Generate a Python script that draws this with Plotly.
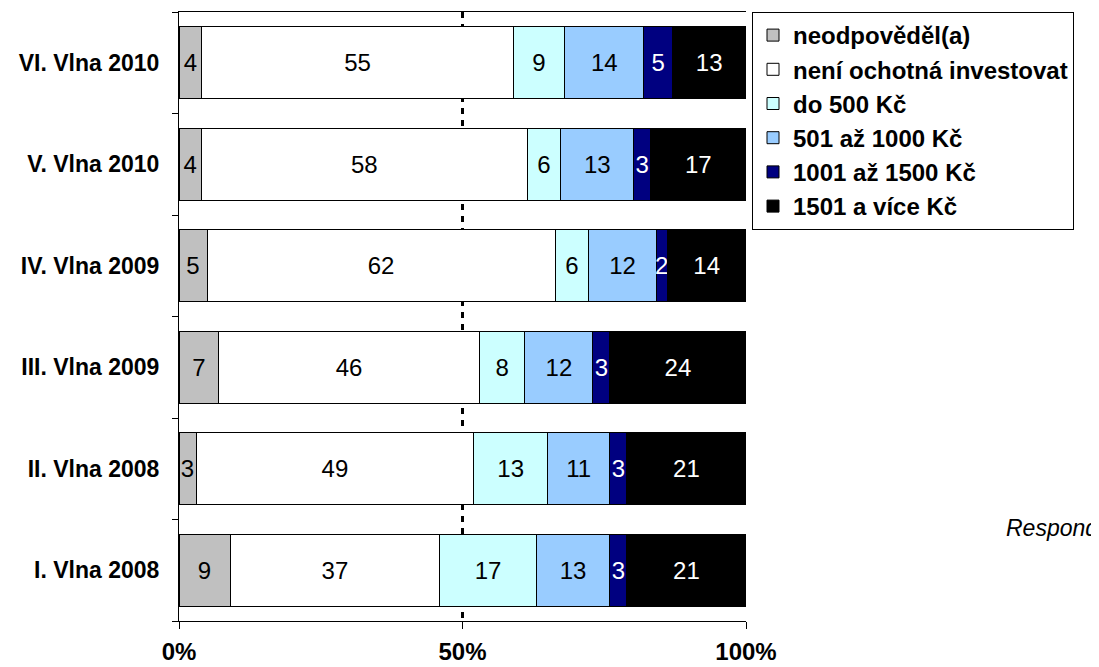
import plotly.graph_objects as go

categories = ["I. Vlna 2008", "II. Vlna 2008", "III. Vlna 2009",
              "IV. Vlna 2009", "V. Vlna 2010", "VI. Vlna 2010"]

series_names = ["neodpověděl(a)", "není ochotná investovat", "do 500 Kč",
                "501 až 1000 Kč", "1001 až 1500 Kč", "1501 a více Kč"]

neodpovedel = [9, 3, 7, 5, 4, 4]
neni_ochotna = [37, 49, 46, 62, 58, 55]
do_500 = [17, 13, 8, 6, 6, 9]
od_501_do_1000 = [13, 11, 12, 12, 13, 14]
od_1001_do_1500 = [3, 3, 3, 2, 3, 5]
nad_1501 = [21, 21, 24, 14, 17, 13]

series_values = [neodpovedel, neni_ochotna, do_500,
                 od_501_do_1000, od_1001_do_1500, nad_1501]

colors = ["#C0C0C0", "#FFFFFF", "#CCFFFF", "#99CCFF", "#000080", "#000000"]
text_colors = ["#000000", "#000000", "#000000", "#000000", "#FFFFFF", "#FFFFFF"]

x_tick_vals = [0, 50, 100]
x_tick_text = ["0%", "50%", "100%"]

note_text = "Respond"

FONT = "Arial, Liberation Sans, sans-serif"

# the page body adds an 8px offset; the figure is sized to fill the rest
W, H = 1091, 659
L, T = 171, 4
PW, PH = 567, 609

fig = go.Figure()
for name, vals, col, tcol in zip(series_names, series_values, colors, text_colors):
    fig.add_trace(go.Bar(
        y=categories, x=vals, name=name, orientation="h",
        marker=dict(color=col, line=dict(color="#000000", width=1)),
        text=vals, texttemplate="%{text}", textposition="inside",
        insidetextanchor="middle", textangle=0,
        textfont=dict(family=FONT, size=24, color=tcol),
        hoverinfo="skip",
    ))

fig.update_layout(
    width=W, height=H,
    margin=dict(l=L, r=W - L - PW, t=T, b=H - T - PH, autoexpand=False),
    barmode="stack", barnorm="percent", bargap=0.29,
    paper_bgcolor="white", plot_bgcolor="white",
    font=dict(family=FONT, size=23, color="black"),
    uniformtext=dict(minsize=24, mode="show"),
    showlegend=True,
    legend=dict(
        x=(573 / PW), xanchor="left", y=1.0, yanchor="top",
        bordercolor="black", borderwidth=1, bgcolor="white",
        font=dict(family=FONT, size=24, color="black", weight="bold"),
        traceorder="normal",
    ),
    xaxis=dict(
        range=[0, 100], tickvals=x_tick_vals, ticktext=x_tick_text,
        ticks="outside", ticklen=7, tickcolor="black", tickwidth=1,
        showline=True, linecolor="black", linewidth=1, mirror=True,
        showgrid=True, gridcolor="black", gridwidth=3, griddash="6px,6px",
        zeroline=False, automargin=False,
        tickfont=dict(family=FONT, size=24, color="black", weight="bold"),
        ticklabelstandoff=2,
    ),
    yaxis=dict(
        type="category", categoryorder="array", categoryarray=categories,
        ticks="outside", tickson="boundaries", ticklen=6, tickcolor="black",
        showline=True, linecolor="black", linewidth=1,
        showgrid=False, zeroline=False, automargin=False,
        tickfont=dict(family=FONT, size=23, color="black", weight="bold"),
        ticklabelstandoff=14,
    ),
    annotations=[dict(
        text="<i>" + note_text + "</i>", xref="paper", yref="paper",
        x=(1004 - 179) / PW, y=(621 - 528) / PH, xanchor="left", yanchor="middle",
        showarrow=False, font=dict(family=FONT, size=23, color="black"),
    )],
)

fig.write_html("out.html")
